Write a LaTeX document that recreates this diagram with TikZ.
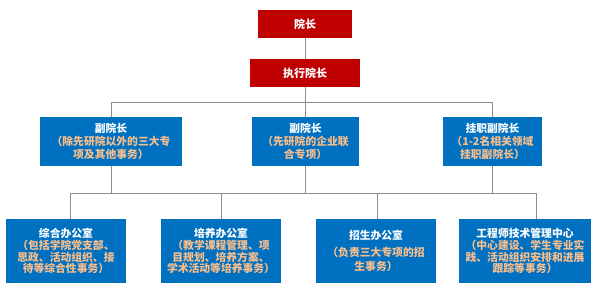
\documentclass[tikz,border=0pt]{standalone}
\usepackage{fontspec}
\setmainfont{Noto Sans CJK SC}
\usepackage{xcolor}
\usetikzlibrary{positioning,calc}
\definecolor{orgRed}   {RGB}{192,  0,  0}
\definecolor{orgBlue}  {RGB}{  0,112,192}
\definecolor{orgPeach} {RGB}{248,190,140}
\definecolor{orgGrey}  {RGB}{140,140,140}

\begin{document}
\begin{tikzpicture}[
  x=1pt,y=-1pt,
  every node/.style={font=\bfseries\fontsize{11}{12}\selectfont},
  lead/.style={fill=orgRed,text=white,minimum height=28pt,inner sep=0pt},
  vice/.style={fill=orgBlue,text=white,minimum height=49pt,inner sep=0pt,
               align=center,font=\bfseries\fontsize{10.8}{12.8}\selectfont},
  office/.style={fill=orgBlue,text=white,minimum height=64pt,minimum width=120pt,
                 inner sep=0pt,align=center,font=\bfseries\fontsize{10.8}{11.8}\selectfont},
  link/.style={draw=orgGrey,line width=0.9pt}
]
\useasboundingbox (0,0) rectangle (598,293);
\fill[white] (0,0) rectangle (598,293);
% leadership
\node[lead,minimum width=94pt]  (dean) at (305,24) {院长};
\node[lead,minimum width=110pt] (exec) at (305,73) {执行院长};
% vice deans
\node[vice,minimum width=142pt] (vpA) at (111,141.5)
   {副院长\\\color{orgPeach}（除先研院以外的三大专\\\color{orgPeach}项及其他事务）};
\node[vice,minimum width=107pt] (vpB) at (305.5,141.5)
   {副院长\\\color{orgPeach}（先研院的企业联\\\color{orgPeach}合专项）};
\node[vice,minimum width=99pt]  (vpC) at (492.5,141.5)
   {挂职副院长\\\color{orgPeach}（1-2名相关领域\\\color{orgPeach}挂职副院长）};
% offices
\node[office] (offA) at (66,251)
   {综合办公室\\\color{orgPeach}（包括学院党支部、\\\color{orgPeach}思政、活动组织、接\\\color{orgPeach}待等综合性事务）};
\node[office] (offB) at (221,251)
   {培养办公室\\\color{orgPeach}（教学课程管理、项\\\color{orgPeach}目规划、培养方案、\\\color{orgPeach}学术活动等培养事务）};
\node[office] (offC) at (376,251)
   {招生办公室\\[5pt]\color{orgPeach}（负责三大专项的招\\[3pt]\color{orgPeach}生事务）};
\node[office,minimum width=132pt] (offD) at (525,251)
   {工程师技术管理中心\\\color{orgPeach}（中心建设、学生专业实\\\color{orgPeach}践、活动组织安排和进展\\\color{orgPeach}跟踪等事务）};
% bus lines
\coordinate (busA) at (305,102);
\coordinate (busB) at (305,193);
\draw[link] (dean) -- (exec);
\draw[link] (exec) -- (busA);
\draw[link] (vpA.north |- busA) -- (vpC.north |- busA);
\foreach \v in {vpA,vpB,vpC}
  \draw[link] (\v.north |- busA) -- (\v.north);
\foreach \v in {vpA,vpB,vpC}
  \draw[link] (\v.south) -- (\v.south |- busB);
\draw[link] ($(offA.north |- busB)+(4,0)$) -- ($(offD.north |- busB)+(11,0)$);
\draw[link] ($(offA.north |- busB)+(4,0)$) -- ($(offA.north)+(4,0)$);
\draw[link] (offB.north |- busB) -- (offB.north);
\draw[link] ($(offC.north |- busB)+(1,0)$) -- ($(offC.north)+(1,0)$);
\draw[link] ($(offD.north |- busB)+(11,0)$) -- ($(offD.north)+(11,0)$);
\end{tikzpicture}
\end{document}
